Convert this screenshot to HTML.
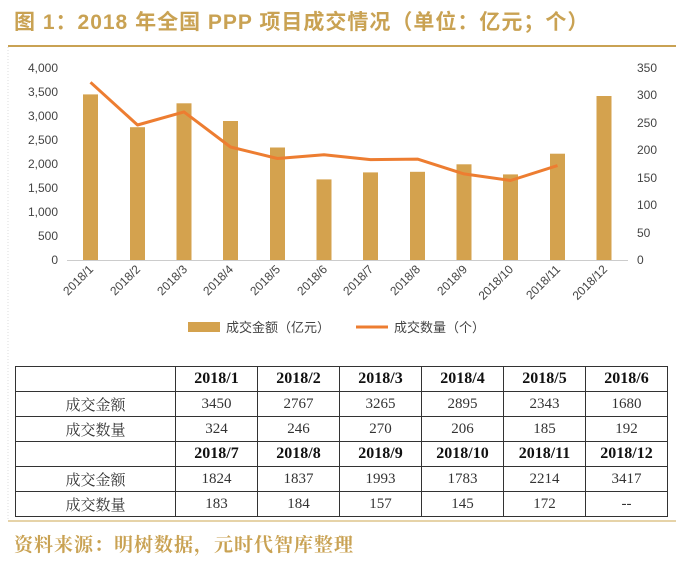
<!DOCTYPE html>
<html><head><meta charset="utf-8"><style>
body{margin:0;width:678px;height:565px;background:#fff;overflow:hidden;font-family:"Liberation Sans","Noto Sans CJK SC",sans-serif}
.title{position:absolute;left:14px;top:6px;font-size:21px;color:#C9A253;font-weight:bold;font-family:"Liberation Sans","Noto Sans CJK SC",sans-serif;letter-spacing:1px}
.foot{position:absolute;left:14px;top:530px;font-size:19px;color:#C9A253;font-weight:bold;font-family:"Liberation Serif","Noto Serif CJK SC",serif;letter-spacing:1px}
table{position:absolute;left:15px;top:366px;border-collapse:collapse;font-family:"Liberation Serif","Noto Serif CJK SC",serif;font-size:15px}
td{border:1px solid #333;height:24px;padding:0;text-align:center;width:81px;color:#333}
td.h{width:159px}
tr.b td{font-weight:bold;color:#111;font-size:16px}
</style></head><body>
<div class="title">图 1：2018 年全国 PPP 项目成交情况（单位：亿元；个）</div>
<svg style="position:absolute;left:0;top:0" width="678" height="565">
<line x1="8" y1="46" x2="676" y2="46" stroke="#C9A253" stroke-width="2"/>
<line x1="8" y1="521" x2="676" y2="521" stroke="#E6D3A8" stroke-width="2"/>
<line x1="8" y1="47" x2="8" y2="520" stroke="#ddd" stroke-dasharray="1,2"/>
<g font-size="12" fill="#444" text-anchor="end">
<text x="58" y="72">4,000</text><text x="58" y="96">3,500</text><text x="58" y="120">3,000</text><text x="58" y="144">2,500</text><text x="58" y="168">2,000</text><text x="58" y="192">1,500</text><text x="58" y="216">1,000</text><text x="58" y="240">500</text><text x="58" y="264">0</text>
</g>
<g font-size="12" fill="#444" text-anchor="start">
<text x="637" y="72">350</text><text x="637" y="99">300</text><text x="637" y="127">250</text><text x="637" y="154">200</text><text x="637" y="182">150</text><text x="637" y="209">100</text><text x="637" y="237">50</text><text x="637" y="264">0</text>
</g>
<line x1="67" y1="260.5" x2="628" y2="260.5" stroke="#ccc"/>
<g fill="#D4A24E">
<rect x="83" y="94.4" width="15" height="165.6"/>
<rect x="130" y="127.2" width="15" height="132.8"/>
<rect x="176.5" y="103.3" width="15" height="156.7"/>
<rect x="223" y="121" width="15" height="139"/>
<rect x="270" y="147.5" width="15" height="112.5"/>
<rect x="316.5" y="179.4" width="15" height="80.6"/>
<rect x="363" y="172.4" width="15" height="87.6"/>
<rect x="410" y="171.8" width="15" height="88.2"/>
<rect x="456.5" y="164.3" width="15" height="95.7"/>
<rect x="503" y="174.4" width="15" height="85.6"/>
<rect x="550" y="153.7" width="15" height="106.3"/>
<rect x="596.5" y="96" width="15" height="164"/>
</g>
<polyline fill="none" stroke="#ED7D31" stroke-width="3" stroke-linejoin="round" points="90.5,82.3 137.5,125 184,111.9 230.5,147 277.5,158.5 324,154.7 370.5,159.6 417.5,159.1 464,173.9 510.5,180.5 557.5,165.6"/>
<g font-size="12" fill="#444" text-anchor="end">
<text transform="translate(94,270) rotate(-45)">2018/1</text>
<text transform="translate(141,270) rotate(-45)">2018/2</text>
<text transform="translate(188,270) rotate(-45)">2018/3</text>
<text transform="translate(234,270) rotate(-45)">2018/4</text>
<text transform="translate(281,270) rotate(-45)">2018/5</text>
<text transform="translate(328,270) rotate(-45)">2018/6</text>
<text transform="translate(374,270) rotate(-45)">2018/7</text>
<text transform="translate(421,270) rotate(-45)">2018/8</text>
<text transform="translate(468,270) rotate(-45)">2018/9</text>
<text transform="translate(514,270) rotate(-45)">2018/10</text>
<text transform="translate(561,270) rotate(-45)">2018/11</text>
<text transform="translate(608,270) rotate(-45)">2018/12</text>
</g>
<rect x="188" y="322" width="32" height="10" fill="#D4A24E"/>
<text x="226" y="332" font-size="13" fill="#444">成交金额（亿元）</text>
<line x1="356" y1="327" x2="388" y2="327" stroke="#ED7D31" stroke-width="3"/>
<text x="394" y="332" font-size="13" fill="#444">成交数量（个）</text>
</svg>
<table>
<tr class="b"><td class="h"></td><td>2018/1</td><td>2018/2</td><td>2018/3</td><td>2018/4</td><td>2018/5</td><td>2018/6</td></tr>
<tr><td class="h">成交金额</td><td>3450</td><td>2767</td><td>3265</td><td>2895</td><td>2343</td><td>1680</td></tr>
<tr><td class="h">成交数量</td><td>324</td><td>246</td><td>270</td><td>206</td><td>185</td><td>192</td></tr>
<tr class="b"><td class="h"></td><td>2018/7</td><td>2018/8</td><td>2018/9</td><td>2018/10</td><td>2018/11</td><td>2018/12</td></tr>
<tr><td class="h">成交金额</td><td>1824</td><td>1837</td><td>1993</td><td>1783</td><td>2214</td><td>3417</td></tr>
<tr><td class="h">成交数量</td><td>183</td><td>184</td><td>157</td><td>145</td><td>172</td><td>--</td></tr>
</table>
<div class="foot">资料来源：明树数据，元时代智库整理</div>
</body></html>
